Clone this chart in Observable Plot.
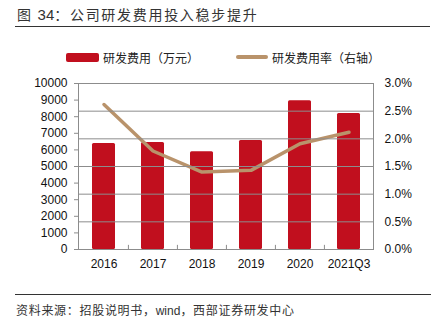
<!DOCTYPE html>
<html>
<head>
<meta charset="utf-8">
<script src="https://cdn.jsdelivr.net/npm/d3@7"></script>
<script src="https://cdn.jsdelivr.net/npm/@observablehq/plot@0.6"></script>
<style>
  html, body { margin: 0; padding: 0; background: #fff; }
  body { width: 437px; height: 327px; position: relative; overflow: hidden;
         font-family: "Noto Sans CJK SC", "Liberation Sans", sans-serif; color: #222; }
  #title { position: absolute; left: 15px; top: 0; width: 415px; height: 27px;
           border-bottom: 1.5px solid #333; font-size: 14px; line-height: 28px; padding-left: 2px; box-sizing: border-box; color: #333; letter-spacing: 1.7px; }
  #title .num { font-family: "Liberation Sans", sans-serif; font-size: 15px; letter-spacing: 0; }
  #legend { position: absolute; top: 48px; left: 0; width: 437px; height: 18px; font-size: 12px; }
  .li { position: absolute; top: 0; height: 18px; display: flex; align-items: center; }
  .sw-bar { width: 33px; height: 9px; background: #C10F1E; border-radius: 2px; margin-right: 4px; }
  .sw-line { width: 32px; height: 4px; background: #B9936B; border-radius: 2px; margin-right: 4px; }
  #chart { position: absolute; top: 70px; left: 0; }
  #foot { position: absolute; left: 15px; top: 294px; width: 415px; border-top: 1.5px solid #333;
          font-size: 12px; line-height: 30px; padding-left: 1px; color: #333; letter-spacing: 0.7px; }
  #foot .lat { font-family: "Liberation Sans", sans-serif; letter-spacing: 0; }
</style>
</head>
<body>
<div id="title">图 <span class="num">34</span>：公司研发费用投入稳步提升</div>
<div id="legend">
  <div class="li" style="left:66px"><div class="sw-bar"></div><span>研发费用（万元）</span></div>
  <div class="li" style="left:236px"><div class="sw-line"></div><span>研发费用率（右轴）</span></div>
</div>
<div id="chart"></div>
<div id="foot">资料来源：招股说明书，<span class="lat">wind</span>，西部证券研发中心</div>
<script>
const years = ["2016", "2017", "2018", "2019", "2020", "2021Q3"];
const rdExpense = [6390, 6450, 5890, 6570, 8960, 8200];
const rdRatio = [2.62, 1.78, 1.40, 1.43, 1.91, 2.12];
const leftTicks = [0, 1000, 2000, 3000, 4000, 5000, 6000, 7000, 8000, 9000, 10000];
const rightTicks = [0, 0.5, 1.0, 1.5, 2.0, 2.5, 3.0];

const leftMax = 10000, rightMax = 3.0;
const toLeft = v => v / rightMax * leftMax;

const data = years.map((y, i) => ({year: y, exp: rdExpense[i], ratio: rdRatio[i]}));

const W = 437, H = 210, mL = 78, mR = 64;
const bw = (W - mL - mR) / years.length;
const axisColor = "#8c8c8c";

const chart = Plot.plot({
  width: W, height: H,
  marginTop: 13, marginBottom: 31, marginLeft: mL, marginRight: mR,
  style: {fontFamily: "Liberation Sans, Arial, sans-serif", fontSize: "12px", color: "#111", background: "white"},
  x: {type: "band", domain: years, paddingInner: 0.54, paddingOuter: 0.27, label: null},
  y: {domain: [0, leftMax], label: null},
  marks: [
    Plot.barY(data, {x: "year", y: "exp", fill: "#C10F1E", rx: 1.5}),
    Plot.line(data, {x: "year", y: d => toLeft(d.ratio), stroke: "#B9936B", strokeWidth: 3.5, strokeLinecap: "round", strokeLinejoin: "round"}),
    Plot.axisY({anchor: "left", ticks: leftTicks, tickFormat: d => String(d), tickSize: 4, tickPadding: 7, stroke: axisColor, color: "#111", label: null}),
    Plot.axisY({anchor: "right", ticks: rightTicks.map(toLeft), tickFormat: d => (d / leftMax * rightMax).toFixed(1) + "%", tickSize: 0, tickPadding: 11, color: "#111", label: null}),
    Plot.tickY(rightTicks.map(toLeft), {y: d => d, frameAnchor: "right", stroke: axisColor}),
    Plot.axisX({tickSize: 0, tickPadding: 10, color: "#111", label: null}),
    Plot.ruleX(years.slice(1), {x: d => d, dx: -bw / 2, y1: 0, y2: 250, stroke: axisColor}),
    Plot.frame({anchor: "left", stroke: axisColor}),
    Plot.frame({anchor: "right", stroke: axisColor}),
    Plot.frame({anchor: "bottom", stroke: axisColor})
  ]
});
document.getElementById("chart").appendChild(chart);
</script>
</body>
</html>
